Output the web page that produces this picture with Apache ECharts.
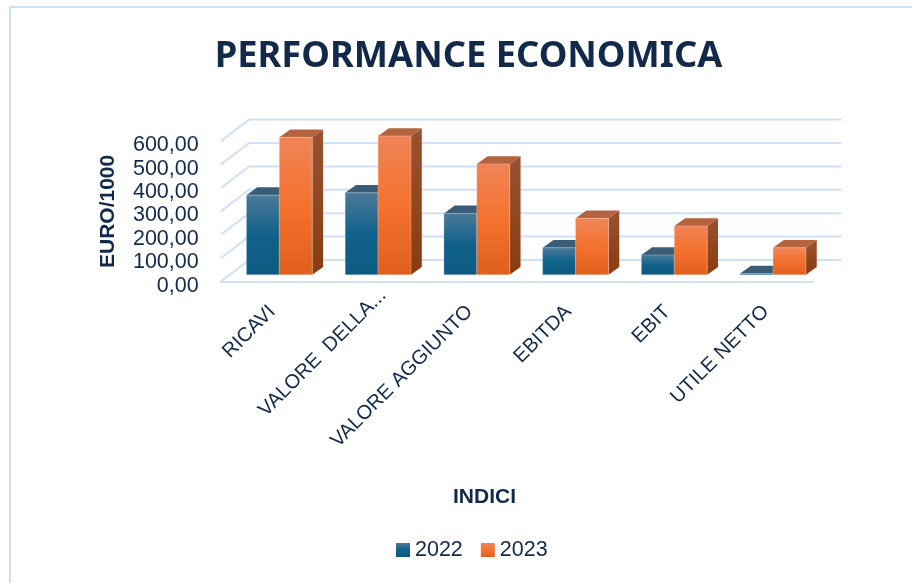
<!DOCTYPE html>
<html>
<head>
<meta charset="utf-8">
<title>Performance economica</title>
<script src="https://cdn.jsdelivr.net/npm/echarts@6/dist/echarts.min.js"></script>
<style>
  html, body { margin: 0; padding: 0; background: #fff; }
  #chart { width: 912px; height: 583px; }
</style>
</head>
<body>
<div id="chart"></div>
<script>
const categories = ['RICAVI', 'VALORE  DELLA...', 'VALORE AGGIUNTO', 'EBITDA', 'EBIT', 'UTILE NETTO'];
const values2022 = [340, 350, 262, 115, 84, 5];
const values2023 = [587, 593, 473, 241, 208, 115];
const yTicks = [0, 100, 200, 300, 400, 500, 600];

const textColor = '#12294a';
const wallColor = '#d0e1f6';

// offset of the bar plane and of the back wall from the front plane of the grid
const barDx = 9.3, barDy = -6.9;
const wallDx = 28.4, wallDy = -21.6;
// depth of one bar
const depthX = 10.8, depthY = -7.8;

function vGrad(stops) {
  return {
    type: 'linear', x: 0, y: 0, x2: 0, y2: 1,
    colorStops: stops.map(s => ({ offset: s[0], color: s[1] }))
  };
}

const palette = {
  2022: {
    front: vGrad([[0, '#4d7a99'], [0.5, '#11628b'], [1, '#0c5a80']]),
    top: '#3a5c76',
    side: vGrad([[0, '#3a5c76'], [1, '#0a4a68']]),
    edge: 'rgba(190,215,240,0.35)'
  },
  2023: {
    front: vGrad([[0, '#f08458'], [0.5, '#f4722e'], [1, '#e05f1c']]),
    top: '#b5633f',
    side: vGrad([[0, '#9a5231'], [1, '#8a3b10']]),
    edge: 'rgba(250,215,195,0.35)'
  }
};

function polygon(points, fill, stroke) {
  return {
    type: 'polygon',
    shape: { points: points },
    style: { fill: fill, stroke: stroke || null, lineWidth: stroke ? 1 : 0 }
  };
}

// draws one 3D bar: side and top first, then the front face
function barRenderer(slot, colors) {
  return function (params, api) {
    const p = api.coord([api.value(0), api.value(1)]);
    const base = api.coord([api.value(0), 0]);
    const band = api.size([1, 0])[0];
    const w = band / 3;
    const x0 = p[0] - band / 2 + band / 6 + slot * w + barDx;
    const x1 = x0 + w;
    const yTop = p[1] + barDy;
    const yBase = base[1] + barDy;
    return {
      type: 'group',
      children: [
        polygon([[x1, yTop], [x1 + depthX, yTop + depthY], [x1 + depthX, yBase + depthY], [x1, yBase]], colors.side),
        polygon([[x0, yTop], [x0 + depthX, yTop + depthY], [x1 + depthX, yTop + depthY], [x1, yTop]], colors.top),
        polygon([[x0, yTop], [x1, yTop], [x1, yBase], [x0, yBase]], colors.front, colors.edge)
      ]
    };
  };
}

// slanted side wall line plus the back wall line for one tick
function wallRenderer(params, api) {
  const v = api.value(0);
  const cs = params.coordSys;
  const y = api.coord([0, v])[1];
  return {
    type: 'polyline',
    shape: { points: [[cs.x, y], [cs.x + wallDx, y + wallDy], [cs.x + cs.width + wallDx, y + wallDy]] },
    style: { fill: null, stroke: wallColor, lineWidth: 2 }
  };
}

const myChart = echarts.init(document.getElementById('chart'));

const option = {
  animation: false,
  backgroundColor: '#fff',
  textStyle: { fontFamily: '"Liberation Sans"', color: textColor },
  title: [
    {
      text: 'PERFORMANCE ECONOMICA',
      left: 463.5, top: 34, textAlign: 'center',
      textStyle: { fontFamily: '"Noto Sans"', fontSize: 36.3, fontWeight: 'bold', color: textColor }
    },
    {
      text: 'INDICI',
      left: 479.5, top: 482, textAlign: 'center',
      textStyle: { fontFamily: '"Liberation Sans"', fontSize: 21, fontWeight: 'bold', color: textColor }
    }
  ],
  legend: {
    data: ['2022', '2023'],
    left: 391, top: 534,
    icon: 'rect',
    itemWidth: 14, itemHeight: 14, itemGap: 18,
    textStyle: { fontSize: 21.5, color: textColor }
  },
  grid: { left: 220.7, right: 98.9, top: 141.2, bottom: 301.4 },
  xAxis: {
    type: 'category',
    data: categories.map((c, i) => (i === 1
      ? { value: c, textStyle: { padding: [20, -20, 0, 0] } }
      : c)),
    axisLine: { show: true, lineStyle: { color: wallColor, width: 2 } },
    axisTick: { show: false },
    axisLabel: {
      interval: 0, rotate: 45, fontSize: 20, color: textColor, margin: 25,
      verticalAlign: 'top', lineHeight: 6
    }
  },
  yAxis: {
    type: 'value',
    min: 0, max: 600, interval: 100,
    name: 'EURO/1000',
    nameLocation: 'middle',
    nameGap: 102,
    nameTextStyle: { fontSize: 21, fontWeight: 'bold', color: textColor },
    axisLine: { show: false },
    axisTick: { show: false },
    splitLine: { show: false },
    axisLabel: {
      fontSize: 21.5, color: textColor, margin: 22, verticalAlign: 'top', lineHeight: 8,
      formatter: v => v.toFixed(2).replace('.', ',')
    }
  },
  series: [
    {
      name: 'griglia', type: 'custom', silent: true, clip: false, z: 1,
      renderItem: wallRenderer,
      encode: { y: 0 },
      data: yTicks.map(v => [v])
    },
    {
      name: '2022', type: 'custom', clip: false, z: 2,
      renderItem: barRenderer(0, palette[2022]),
      itemStyle: { color: palette[2022].front },
      encode: { x: 0, y: 1 },
      data: values2022.map((v, i) => [i, v])
    },
    {
      name: '2023', type: 'custom', clip: false, z: 3,
      renderItem: barRenderer(1, palette[2023]),
      itemStyle: { color: palette[2023].front },
      encode: { x: 0, y: 1 },
      data: values2023.map((v, i) => [i, v])
    }
  ],
  // chart frame, runs off the right and bottom of the shot
  graphic: [
    { type: 'polyline', silent: true, shape: { points: [[10, 600], [10, 7], [930, 7]] }, style: { fill: null, stroke: wallColor, lineWidth: 2 } }
  ]
};

myChart.setOption(option);
</script>
</body>
</html>
